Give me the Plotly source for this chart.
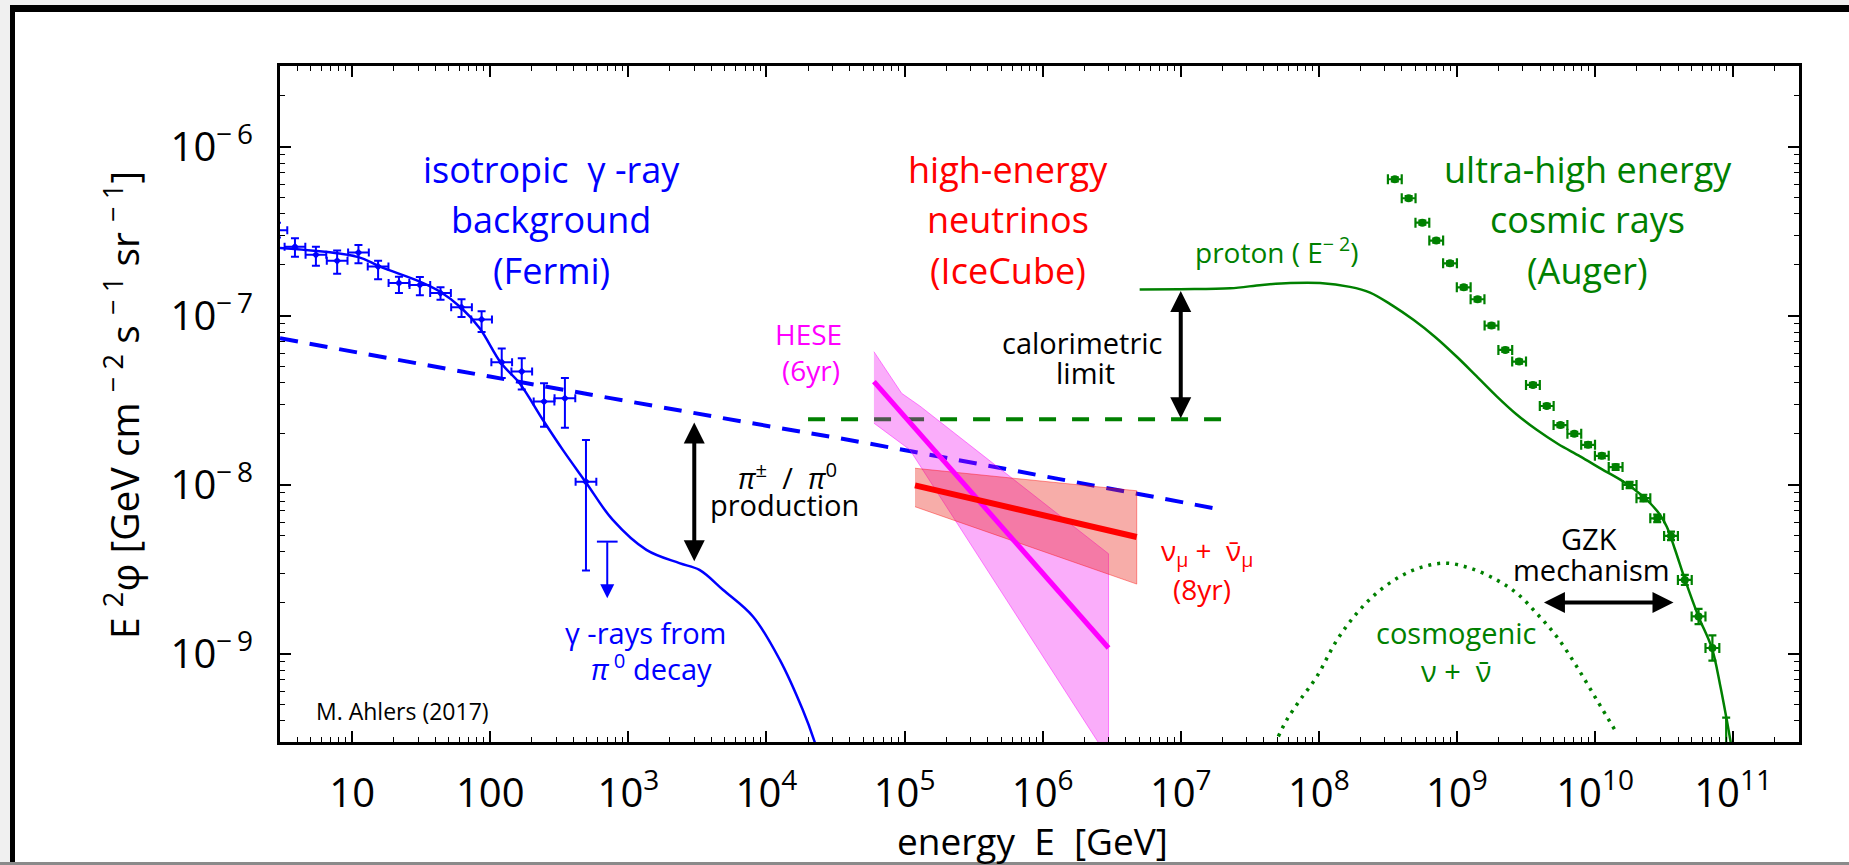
import numpy as np
import plotly.graph_objects as go

# ---------------------------------------------------------------- colours / fonts
BLUE, RED, GREEN, MAGENTA, BLACK = "#0000ff", "#ff0000", "#008000", "#ff00ff", "#000000"
FONT = "Open Sans"

# ---------------------------------------------------------------- Fermi-LAT isotropic gamma-ray background
fermi_E = [2.85, 3.85, 5.46, 7.78, 11.1, 15.4, 21.8, 30.9, 43.6, 61.9, 86.5, 121, 169, 245, 347, 493]
fermi_flux = [3.2e-7, 2.56e-7, 2.29e-7, 2.11e-7, 2.36e-7, 1.95e-7, 1.56e-7, 1.52e-7, 1.36e-7,
              1.12e-7, 9.5e-8, 5.3e-8, 4.67e-8, 3.10e-8, 3.24e-8, 1.04e-8]
fermi_hi = [3.55e-7, 2.87e-7, 2.56e-7, 2.43e-7, 2.62e-7, 2.11e-7, 1.70e-7, 1.69e-7, 1.47e-7,
            1.25e-7, 1.06e-7, 6.4e-8, 5.6e-8, 3.98e-8, 4.27e-8, 1.84e-8]
fermi_lo = [2.9e-7, 2.23e-7, 1.97e-7, 1.77e-7, 2.04e-7, 1.64e-7, 1.36e-7, 1.32e-7, 1.24e-7,
            9.8e-8, 8.0e-8, 4.27e-8, 3.66e-8, 2.20e-8, 2.17e-8, 3.1e-9]
FERMI_HALF_BIN_DEX = 0.075
fermi_ul_E = 703.0
fermi_ul_flux = 4.6e-9
fermi_ul_arrow_to = 2.13e-9

# IGRB model (gamma-rays from pi0 decay)
igrb_E = [3.0, 11.1, 15.9, 30.9, 43.1, 61.8, 83.8, 120, 163, 240, 336, 489, 771, 1350, 2340,
          3270, 4860, 7980, 1.25e4, 1.83e4, 2.22e4, 2.44e4]
igrb_flux = [2.51e-7, 2.22e-7, 1.95e-7, 1.59e-7, 1.39e-7, 1.11e-7, 8.41e-8, 5.22e-8, 3.98e-8,
             2.42e-8, 1.60e-8, 1.04e-8, 6.18e-9, 4.11e-9, 3.43e-9, 3.13e-9, 2.38e-9, 1.66e-9,
             9.18e-10, 4.65e-10, 3.05e-10, 2.35e-10]

# neutrino level expected from pi+- / pi0 production
pion_E = [3.0, 99.3, 1.25e4, 3.40e4, 2.03e7]
pion_flux = [7.35e-8, 4.36e-8, 2.16e-8, 1.88e-8, 7.08e-9]

# calorimetric limit
calor_E = [2.0e4, 2.0e7]
calor_flux = [2.44e-8, 2.44e-8]

# ---------------------------------------------------------------- IceCube
hese_E = [6.0e4, 3.0e6]
hese_flux = [4.07e-8, 1.08e-9]
hese_up_E = [6.0e4, 9.53e4, 1.29e5, 3.0e6]
hese_up_flux = [6.12e-8, 3.47e-8, 2.92e-8, 3.9e-9]
hese_lo_E = [6.0e4, 1.09e5, 3.0e6]
hese_lo_flux = [2.31e-8, 1.61e-8, 2.4e-10]

numu_E = [1.19e5, 4.8e6]
numu_flux = [9.9e-9, 4.9e-9]
numu_up_flux = [1.25e-8, 9.2e-9]
numu_lo_flux = [7.4e-9, 2.58e-9]

# ---------------------------------------------------------------- UHE cosmic rays (Auger)
auger_E = [3.55e8, 4.47e8, 5.62e8, 7.08e8, 8.91e8, 1.12e9, 1.41e9, 1.78e9, 2.24e9, 2.82e9,
           3.55e9, 4.47e9, 5.62e9, 7.08e9, 8.91e9, 1.12e10, 1.41e10, 1.78e10, 2.24e10, 2.82e10,
           3.55e10, 4.47e10, 5.62e10, 7.08e10, 8.91e10]
auger_flux = [6.41e-7, 4.95e-7, 3.55e-7, 2.78e-7, 2.04e-7, 1.47e-7, 1.25e-7, 8.73e-8, 6.27e-8,
              5.35e-8, 3.89e-8, 2.92e-8, 2.25e-8, 2.00e-8, 1.72e-8, 1.48e-8, 1.27e-8, 9.95e-9,
              8.32e-9, 6.32e-9, 4.97e-9, 2.73e-9, 1.66e-9, 1.08e-9, 2.0e-10]
auger_err_up_dex = [0.012] * 14 + [0.014, 0.014, 0.016, 0.018, 0.02, 0.022, 0.025, 0.03, 0.045,
                                   0.075, 0.32]
auger_err_lo_dex = [0.012] * 14 + [0.014, 0.014, 0.016, 0.018, 0.02, 0.022, 0.025, 0.03, 0.045,
                                   0.075, 0.30]
AUGER_HALF_BIN_DEX = 0.05

# proton model, E^-2 injection
proton_E = [5.04e6, 9.89e6, 2.28e7, 3.88e7, 6.19e7, 1.02e8, 1.68e8, 2.35e8, 3.40e8, 4.84e8,
            6.95e8, 9.98e8, 1.38e9, 1.95e9, 2.68e9, 3.78e9, 5.40e9, 7.80e9, 1.11e10, 1.61e10,
            2.12e10, 2.51e10, 2.96e10, 3.31e10, 3.80e10, 4.49e10, 5.61e10, 7.01e10, 8.05e10,
            8.99e10, 9.68e10]
proton_flux = [1.43e-7, 1.435e-7, 1.45e-7, 1.52e-7, 1.56e-7, 1.56e-7, 1.48e-7, 1.37e-7, 1.15e-7,
               9.44e-8, 7.48e-8, 5.71e-8, 4.40e-8, 3.32e-8, 2.62e-8, 2.11e-8, 1.74e-8, 1.47e-8,
               1.24e-8, 1.04e-8, 8.81e-9, 7.76e-9, 6.62e-9, 5.64e-9, 4.12e-9, 2.73e-9, 1.66e-9,
               1.08e-9, 6.53e-10, 4.06e-10, 2.88e-10]

# cosmogenic neutrinos
cosmo_E = [5.09e7, 5.86e7, 7.31e7, 9.66e7, 1.35e8, 1.88e8, 2.62e8, 3.87e8, 5.71e8, 8.44e8,
           1.25e9, 1.94e9, 2.71e9, 3.78e9, 5.28e9, 7.38e9, 1.03e10, 1.44e10]
cosmo_flux = [3.23e-10, 4.06e-10, 5.32e-10, 7.31e-10, 1.20e-9, 1.73e-9, 2.28e-9, 2.86e-9,
              3.27e-9, 3.43e-9, 3.20e-9, 2.73e-9, 2.28e-9, 1.73e-9, 1.26e-9, 8.38e-10,
              5.32e-10, 3.38e-10]

# ---------------------------------------------------------------- axes
x_tickvals = [10.0 ** k for k in range(1, 12)]
x_ticktext = ["10", "100"] + ["10<sup>%d</sup>" % k for k in range(3, 12)]
y_tickvals = [1e-9, 1e-8, 1e-7, 1e-6]
y_ticktext = ["10<sup>\u2212\u2009%d</sup>" % k for k in (9, 8, 7, 6)]
x_minor = [m * 10.0 ** k for k in range(0, 12) for m in range(2, 10)]
y_minor = [m * 10.0 ** k for k in range(-10, -5) for m in range(2, 10)]

W, H = 1849, 865
MARGIN = dict(l=280, r=50, t=66, b=123)
PW = W - MARGIN["l"] - MARGIN["r"]
PH = H - MARGIN["t"] - MARGIN["b"]


def paper_x(px):
    return (px - MARGIN["l"]) / PW


def paper_y(py):
    return (H - MARGIN["b"] - py) / PH


def lg(v):
    return float(np.log10(v))


fig = go.Figure()

# calorimetric limit
fig.add_trace(go.Scatter(x=calor_E, y=calor_flux, mode="lines",
                         line=dict(color=GREEN, width=4, dash="17px,16px")))
# pi+- / pi0 neutrino level
fig.add_trace(go.Scatter(x=pion_E, y=pion_flux, mode="lines", line_shape="spline",
                         line=dict(color=BLUE, width=4, dash="18px,12px")))
# IGRB model
fig.add_trace(go.Scatter(x=igrb_E, y=igrb_flux, mode="lines", line_shape="spline",
                         line=dict(color=BLUE, width=2.5)))
# Fermi data
fE = np.array(fermi_E)
ff = np.array(fermi_flux)
fig.add_trace(go.Scatter(
    x=fermi_E, y=fermi_flux, mode="markers",
    marker=dict(color=BLUE, size=6, symbol="diamond"),
    error_y=dict(type="data", symmetric=False, array=np.array(fermi_hi) - ff,
                 arrayminus=ff - np.array(fermi_lo), color=BLUE, thickness=2, width=4),
    error_x=dict(type="data", symmetric=False, array=fE * (10 ** FERMI_HALF_BIN_DEX - 1),
                 arrayminus=fE * (1 - 10 ** -FERMI_HALF_BIN_DEX), color=BLUE, thickness=2,
                 width=4)))
# Fermi upper limit bar
fig.add_trace(go.Scatter(
    x=[fermi_ul_E], y=[fermi_ul_flux], mode="markers", marker=dict(size=1, color=BLUE),
    error_x=dict(type="data", symmetric=False,
                 array=[fermi_ul_E * (10 ** FERMI_HALF_BIN_DEX - 1)],
                 arrayminus=[fermi_ul_E * (1 - 10 ** -FERMI_HALF_BIN_DEX)],
                 color=BLUE, thickness=2, width=0)))

# HESE band
fig.add_trace(go.Scatter(x=hese_up_E + hese_lo_E[::-1], y=hese_up_flux + hese_lo_flux[::-1],
                         mode="lines", fill="toself", fillcolor="rgba(240,0,240,0.32)",
                         line=dict(color="rgba(255,0,255,0.45)", width=1)))
# numu band
fig.add_trace(go.Scatter(x=numu_E + numu_E[::-1], y=numu_up_flux + numu_lo_flux[::-1],
                         mode="lines", fill="toself", fillcolor="rgba(235,40,30,0.38)",
                         line=dict(color="rgba(255,0,0,0.4)", width=1)))
fig.add_trace(go.Scatter(x=hese_E, y=hese_flux, mode="lines", line=dict(color=MAGENTA, width=5)))
fig.add_trace(go.Scatter(x=numu_E, y=numu_flux, mode="lines", line=dict(color=RED, width=6)))

# proton model and cosmogenic neutrinos
fig.add_trace(go.Scatter(x=proton_E, y=proton_flux, mode="lines", line_shape="spline",
                         line=dict(color=GREEN, width=2.5)))
fig.add_trace(go.Scatter(x=cosmo_E, y=cosmo_flux, mode="lines", line_shape="spline",
                         line=dict(color=GREEN, width=3.5, dash="3px,6px")))
# Auger data
aE = np.array(auger_E)
af = np.array(auger_flux)
fig.add_trace(go.Scatter(
    x=auger_E, y=auger_flux, mode="markers", marker=dict(color=GREEN, size=8),
    error_y=dict(type="data", symmetric=False, array=af * (10 ** np.array(auger_err_up_dex) - 1),
                 arrayminus=af * (1 - 10 ** -np.array(auger_err_lo_dex)), color=GREEN,
                 thickness=2.2, width=4),
    error_x=dict(type="data", symmetric=False, array=aE * (10 ** AUGER_HALF_BIN_DEX - 1),
                 arrayminus=aE * (1 - 10 ** -AUGER_HALF_BIN_DEX), color=GREEN, thickness=2.2,
                 width=5)))

annotations = []


def label(text, E, flux, size, color, font=FONT):
    annotations.append(dict(text=text, x=lg(E), y=lg(flux), xref="x", yref="y",
                            showarrow=False, xanchor="center", yanchor="middle",
                            font=dict(family=font, size=size, color=color)))


def arrow(E1, f1, E2, f2, color, width, size, both=True):
    annotations.append(dict(text="", x=lg(E2), y=lg(f2), ax=lg(E1), ay=lg(f1), xref="x",
                            yref="y", axref="x", ayref="y", showarrow=True,
                            arrowhead=2, arrowsize=size, arrowwidth=width, arrowcolor=color,
                            startarrowhead=2, startarrowsize=size,
                            arrowside="end+start" if both else "end",
                            standoff=0, startstandoff=0, borderpad=0))


# region titles
for i, t in enumerate(["isotropic  \u03b3 -ray", "background", "(Fermi)"]):
    label(t, 277, [7.3e-7, 3.7e-7, 1.86e-7][i], 36, BLUE)
for i, t in enumerate(["high-energy", "neutrinos", "(IceCube)"]):
    label(t, 5.61e5, [7.3e-7, 3.7e-7, 1.86e-7][i], 36, RED)
for i, t in enumerate(["ultra-high energy", "cosmic rays", "(Auger)"]):
    label(t, 8.89e9, [7.3e-7, 3.7e-7, 1.86e-7][i], 36, GREEN)

label("proton ( E<sup>\u2212 2</sup>)", 4.98e7, 2.42e-7, 28, GREEN)
label("calorimetric", 1.93e6, 6.95e-8, 29, BLACK)
label("limit", 2.03e6, 4.62e-8, 29, BLACK)
label("HESE", 2.0e4, 7.75e-8, 28, MAGENTA)
label("(6yr)", 2.1e4, 4.8e-8, 28, MAGENTA)
label("<i>\u03c0</i><sup>\u00b1</sup>  /  <i>\u03c0</i><sup>0</sup>", 1.43e4, 1.12e-8, 29, BLACK)
label("production", 1.34e4, 7.65e-9, 29, BLACK)
label("\u03bd<sub>\u03bc</sub> +  \u03bd\u0304<sub>\u03bc</sub>", 1.55e7, 3.98e-9, 28, RED)
label("(8yr)", 1.43e7, 2.4e-9, 28, RED)
label("\u03b3 -rays from", 1.34e3, 1.34e-9, 29, BLUE)
label("<i>\u03c0</i><sup> 0</sup> decay", 1.48e3, 8.3e-10, 29, BLUE)
label("GZK", 9.04e9, 4.8e-9, 29, BLACK)
label("mechanism", 9.5e9, 3.15e-9, 29, BLACK)
label("cosmogenic", 9.84e8, 1.34e-9, 29, GREEN)
label("\u03bd +  \u03bd\u0304", 1.0e9, 7.9e-10, 29, GREEN)
label("M. Ahlers (2017)", 23.3, 4.55e-10, 23, BLACK)

# arrows
arrow(3.0e3, 3.5e-9, 3.0e3, 2.33e-8, BLACK, 4, 1.05)
arrow(1.0e7, 2.45e-8, 1.0e7, 1.40e-7, BLACK, 4, 1.05)
arrow(4.23e9, 2.01e-9, 3.70e10, 2.01e-9, BLACK, 4, 1.05)
arrow(fermi_ul_E, fermi_ul_flux, fermi_ul_E, fermi_ul_arrow_to, BLUE, 2, 1.4, both=False)

# axis titles
annotations.append(dict(text="energy  E  [GeV]", xref="paper", yref="paper",
                        x=paper_x(1032), y=paper_y(840), xanchor="center", yanchor="middle",
                        showarrow=False, font=dict(family=FONT, size=37, color=BLACK)))
annotations.append(dict(text="E <sup>2</sup>\u03c6 [GeV cm <sup>\u2212 2</sup> s <sup>\u2212 1</sup> "
                             "sr <sup>\u2212 1</sup>]",
                        xref="paper", yref="paper", x=paper_x(122), y=paper_y(405),
                        xanchor="center", yanchor="middle",
                        textangle=-90, showarrow=False,
                        font=dict(family=FONT, size=39, color=BLACK)))

# outer frame around the figure
shapes = [
    dict(type="rect", xref="paper", yref="paper", x0=paper_x(0), x1=paper_x(10),
         y0=paper_y(H), y1=paper_y(0), fillcolor="#f0f0f0", line=dict(width=0)),
    dict(type="rect", xref="paper", yref="paper", x0=paper_x(0), x1=paper_x(W),
         y0=paper_y(5), y1=paper_y(0), fillcolor="#f0f0f0", line=dict(width=0)),
    dict(type="rect", xref="paper", yref="paper", x0=paper_x(10), x1=paper_x(15),
         y0=paper_y(863), y1=paper_y(5), fillcolor=BLACK, line=dict(width=0)),
    dict(type="rect", xref="paper", yref="paper", x0=paper_x(10), x1=paper_x(W),
         y0=paper_y(12), y1=paper_y(5), fillcolor=BLACK, line=dict(width=0)),
    dict(type="rect", xref="paper", yref="paper", x0=paper_x(0), x1=paper_x(W),
         y0=paper_y(H), y1=paper_y(862), fillcolor="#8a8a8a", line=dict(width=0)),
]

axis_common = dict(type="log", showline=True, linecolor=BLACK, linewidth=3, mirror="allticks",
                   ticks="inside", ticklen=11, tickwidth=1.6, tickcolor=BLACK, showgrid=False,
                   zeroline=False, tickfont=dict(family=FONT, size=40, color=BLACK))

fig.update_layout(
    width=W, height=H, margin=dict(MARGIN, autoexpand=False),
    paper_bgcolor="white", plot_bgcolor="white", showlegend=False,
    font=dict(family=FONT, color=BLACK),
    xaxis=dict(axis_common, range=[lg(3), lg(3e11)], tickmode="array", tickvals=x_tickvals,
               ticktext=x_ticktext, ticklabelstandoff=14,
               minor=dict(tickmode="array", tickvals=x_minor, ticks="inside", ticklen=5,
                          tickwidth=1.3, tickcolor=BLACK, showgrid=False)),
    yaxis=dict(axis_common, range=[lg(3e-10), lg(3e-6)], tickmode="array", tickvals=y_tickvals,
               ticktext=y_ticktext, ticklabelstandoff=16,
               minor=dict(tickmode="array", tickvals=y_minor, ticks="inside", ticklen=5,
                          tickwidth=1.3, tickcolor=BLACK, showgrid=False)),
    annotations=annotations, shapes=shapes,
)

fig.write_html("out.html")
